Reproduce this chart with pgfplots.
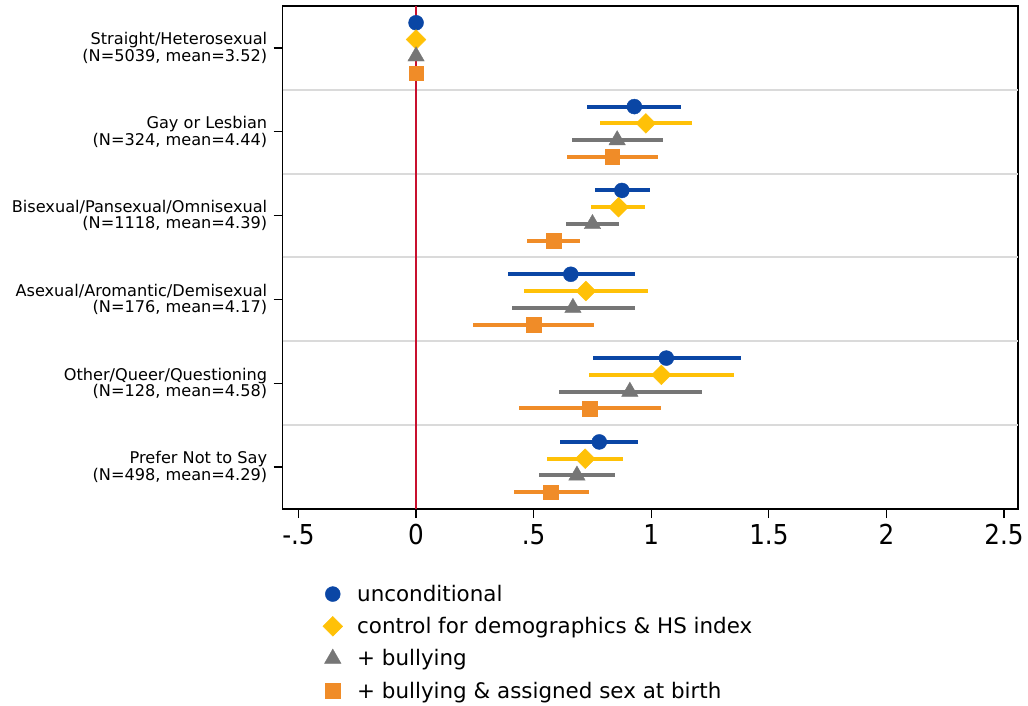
\documentclass[border=0pt]{standalone}
\usepackage{pgfplots}
\pgfplotsset{compat=1.18}
\usepackage{fontspec}
\setmainfont{DejaVu Sans}
\newfontfamily\condfont{DejaVu Sans Condensed}
\definecolor{cblue}{RGB}{10,70,165}
\definecolor{cyellow}{RGB}{255,193,7}
\definecolor{cgray}{RGB}{118,118,118}
\definecolor{corange}{RGB}{240,140,40}
\definecolor{cred}{RGB}{200,16,46}
\definecolor{csep}{RGB}{218,218,218}
\begin{document}
\begin{tikzpicture}
\useasboundingbox (-282.7bp,-197bp) rectangle (745.3bp,509bp);
\begin{axis}[
  at={(0,0)}, anchor=south west,
  scale only axis, width=735bp, height=503bp,
  xmin=-0.567, xmax=2.558, ymin=0, ymax=6,
  axis line style={line width=1.6bp, black},
  xtick={-0.5,0,0.5,1,1.5,2,2.5},
  xticklabels={-.5,0,.5,1,1.5,2,2.5},
  xticklabel style={font=\condfont\fontsize{27.5}{30}\selectfont, yshift=-3bp},
  ytick={0.5,1.5,2.5,3.5,4.5,5.5},
  yticklabels={
    {Prefer Not to Say\\(N=498, mean=4.29)},
    {Other/Queer/Questioning\\(N=128, mean=4.58)},
    {Asexual/Aromantic/Demisexual\\(N=176, mean=4.17)},
    {Bisexual/Pansexual/Omnisexual\\(N=1118, mean=4.39)},
    {Gay or Lesbian\\(N=324, mean=4.44)},
    {Straight/Heterosexual\\(N=5039, mean=3.52)}},
  yticklabel style={align=right, font=\fontsize{16.2}{15.5}\selectfont, xshift=-3bp},
  tick align=outside,
  xtick pos=bottom, ytick pos=left,
  major tick length=9bp,
  tick style={line width=1.2bp, black},
  extra y ticks={1,2,3,4,5},
  extra y tick labels={},
  extra y tick style={grid=major, major grid style={line width=2bp, csep}, major tick length=0pt},
  legend style={at={(rel axis cs:0,0)}, anchor=north west, xshift=37bp, yshift=-72bp,
    draw=none, fill=none, font=\fontsize{21.5}{24}\selectfont,
    row sep=10.5bp, column sep=12.5bp},
  legend cell align=left,
  error bars/error bar style={line width=4bp},
  error bars/error mark=none,
]
\draw[cred, line width=1.6bp] (axis cs:0,0) -- (axis cs:0,6);
\addplot[only marks, mark=*, mark size=7.5bp, color=cblue,
  error bars/.cd, x dir=both, x explicit]
  coordinates {
  (0,5.8)
  (0.928,4.8) += (0.200,0) -= (0.201,0)
  (0.875,3.8) += (0.118,0) -= (0.116,0)
  (0.658,2.8) += (0.271,0) -= (0.269,0)
  (1.064,1.8) += (0.316,0) -= (0.312,0)
  (0.779,0.8) += (0.163,0) -= (0.165,0)
  };
\addlegendentry{unconditional}
\addplot[only marks, mark=square*, mark size=7bp, mark options={rotate=45}, color=cyellow,
  error bars/.cd, x dir=both, x explicit]
  coordinates {
  (0,5.6)
  (0.977,4.6) += (0.196,0) -= (0.194,0)
  (0.861,3.6) += (0.113,0) -= (0.116,0)
  (0.722,2.6) += (0.264,0) -= (0.262,0)
  (1.043,1.6) += (0.307,0) -= (0.308,0)
  (0.719,0.6) += (0.159,0) -= (0.164,0)
  };
\addlegendentry{control for demographics \& HS index}
\addplot[only marks, mark=triangle*, mark size=9.5bp, color=cgray,
  error bars/.cd, x dir=both, x explicit]
  coordinates {
  (0,5.4)
  (0.855,4.4) += (0.197,0) -= (0.192,0)
  (0.750,3.4) += (0.114,0) -= (0.113,0)
  (0.667,2.4) += (0.265,0) -= (0.257,0)
  (0.909,1.4) += (0.307,0) -= (0.303,0)
  (0.684,0.4) += (0.160,0) -= (0.161,0)
  };
\addlegendentry{+ bullying}
\addplot[only marks, mark=square*, mark size=7.3bp, color=corange,
  error bars/.cd, x dir=both, x explicit]
  coordinates {
  (0,5.2)
  (0.834,4.2) += (0.193,0) -= (0.193,0)
  (0.584,3.2) += (0.115,0) -= (0.113,0)
  (0.499,2.2) += (0.258,0) -= (0.259,0)
  (0.738,1.2) += (0.303,0) -= (0.301,0)
  (0.573,0.2) += (0.161,0) -= (0.157,0)
  };
\addlegendentry{+ bullying \& assigned sex at birth}
\end{axis}
\end{tikzpicture}
\end{document}
